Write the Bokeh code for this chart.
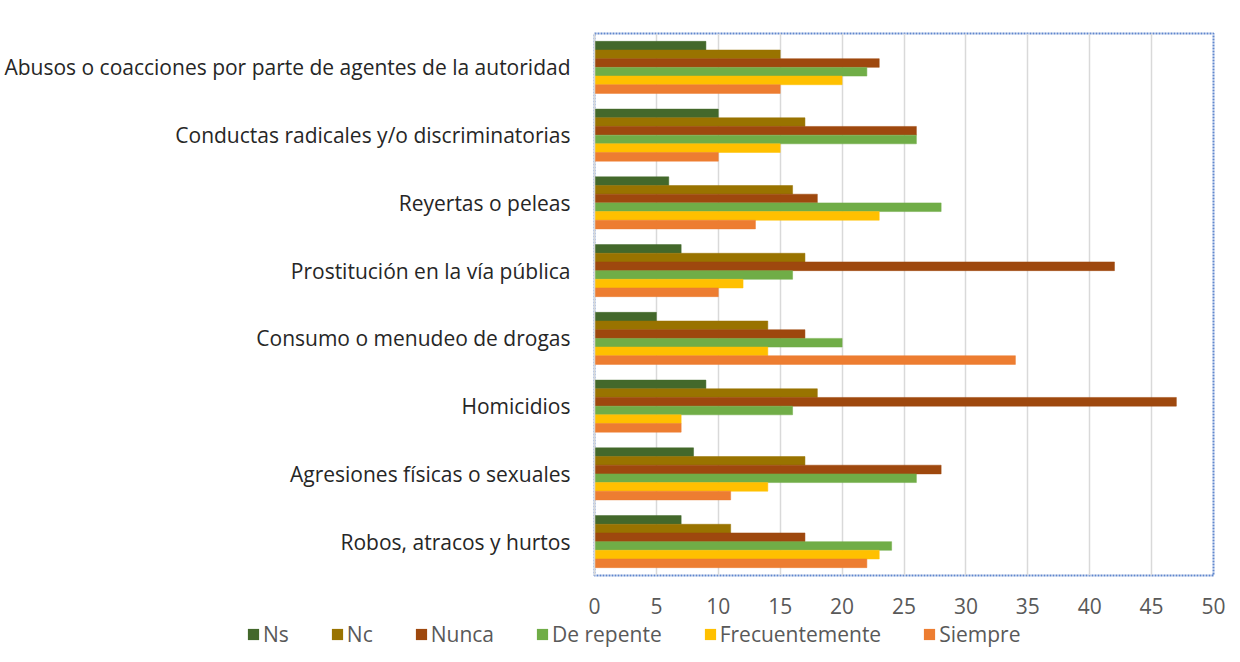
from bokeh.plotting import figure
from bokeh.layouts import column
from bokeh.models import ColumnDataSource, FactorRange, Legend, LegendItem, Range1d, SingleIntervalTicker
from bokeh.transform import dodge
from bokeh.embed import file_html
from bokeh.resources import INLINE

categories = [
    "Abusos o coacciones por parte de agentes de la autoridad",
    "Conductas radicales y/o discriminatorias",
    "Reyertas o peleas",
    "Prostitución en la vía pública",
    "Consumo o menudeo de drogas",
    "Homicidios",
    "Agresiones físicas o sexuales",
    "Robos, atracos y hurtos",
]
series = ["Ns", "Nc", "Nunca", "De repente", "Frecuentemente", "Siempre"]
ns = [9, 10, 6, 7, 5, 9, 8, 7]
nc = [15, 17, 16, 17, 14, 18, 17, 11]
nunca = [23, 26, 18, 42, 17, 47, 28, 17]
de_repente = [22, 26, 28, 16, 20, 16, 26, 24]
frecuentemente = [20, 15, 23, 12, 14, 7, 14, 23]
siempre = [15, 10, 13, 10, 34, 7, 11, 22]
colors = ["#43682B", "#997300", "#9E480E", "#70AD47", "#FFC000", "#ED7D31"]

data = dict(cat=categories, Ns=ns, Nc=nc, Nunca=nunca)
data["De repente"] = de_repente
data["Frecuentemente"] = frecuentemente
data["Siempre"] = siempre
src = ColumnDataSource(data)

FONT = "Open Sans"
FS = "21px"
W = 1232
p = figure(width=W, height=619, output_backend="svg", toolbar_location=None,
           y_range=FactorRange(factors=list(reversed(categories))),
           x_range=Range1d(0, 50),
           min_border_left=594, min_border_right=19, min_border_top=33, min_border_bottom=44)

bh = 0.128
for i, (s, c) in enumerate(zip(series, colors)):
    off = (2.5 - i) * bh
    p.hbar(y=dodge("cat", off, range=p.y_range), right=s, left=0, height=bh,
           source=src, fill_color=c, line_color=c, line_width=0.5)

p.xgrid.grid_line_color = "#D9D9D9"
p.xgrid.grid_line_width = 1.5
p.ygrid.grid_line_color = None
p.outline_line_color = "#4472C4"
p.outline_line_width = 2
p.outline_line_dash = "2 1"
p.outline_line_alpha = 0.85

p.xaxis.ticker = SingleIntervalTicker(interval=5)
p.xaxis.axis_line_color = None
p.xaxis.major_tick_line_color = None
p.xaxis.minor_tick_line_color = None
p.xaxis.major_label_text_font = FONT
p.xaxis.major_label_text_font_size = FS
p.xaxis.major_label_text_color = "#595959"
p.xaxis.major_label_standoff = 16

p.yaxis.axis_line_color = "#D9D9D9"
p.yaxis.axis_line_width = 1.5
p.yaxis.major_tick_line_color = None
p.yaxis.minor_tick_line_color = None
p.yaxis.major_label_text_font = FONT
p.yaxis.major_label_text_font_size = FS
p.yaxis.major_label_text_color = "#262626"
p.yaxis.major_label_standoff = 18

# legend strip below the chart
lg = figure(width=W, height=35, output_backend="svg", toolbar_location=None,
            x_range=Range1d(0, 1), y_range=Range1d(0, 1), min_border=0)
if hasattr(lg, "frame_align"):
    lg.frame_align = False
lg.axis.visible = False
lg.grid.visible = False
lg.outline_line_color = None
items = []
for s, c in zip(series, colors):
    r = lg.quad(left=[5], right=[6], top=[6], bottom=[5], fill_color=c, line_color=None)
    items.append(LegendItem(label=s, renderers=[r]))
legend = Legend(items=items, orientation="horizontal", location=(246, 6),
                label_text_font=FONT, label_text_font_size=FS, label_text_color="#595959",
                glyph_width=14, glyph_height=14, label_standoff=3, spacing=41,
                padding=0, margin=0, border_line_color=None, background_fill_alpha=0)
lg.add_layout(legend, "center")

layout = column(p, lg, spacing=0)
open("out.html", "w").write(file_html(layout, INLINE))
